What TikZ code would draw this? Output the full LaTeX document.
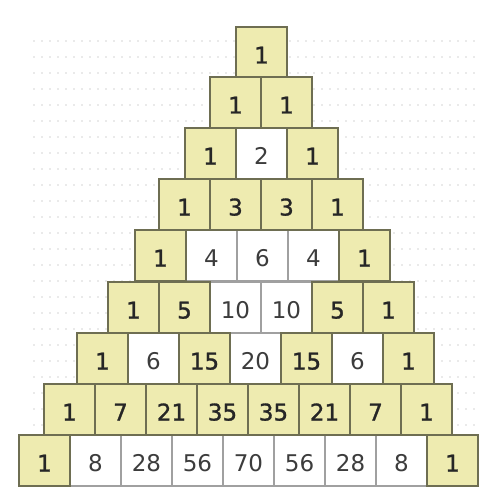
\documentclass[tikz,border=0pt]{standalone}
\usepackage{fontspec}
\setmainfont{DejaVu Sans}
\newfontfamily\heavyfont[FakeBold=1.2]{DejaVu Sans}
\definecolor{cellfill}{HTML}{EEEBB0}
\definecolor{celledge}{HTML}{6E6E52}
\definecolor{evenedge}{HTML}{A0A0A0}
\definecolor{eventext}{HTML}{3C3C3C}
\definecolor{dotgrey}{HTML}{D4D4D4}
\tikzset{
	cell/.style={rectangle,minimum width=51pt,minimum height=51pt,
		inner sep=0pt,line width=1.6pt,text height=22pt,text depth=0pt,
		font=\fontsize{23}{23}\selectfont}
}
\begin{document}
\begin{tikzpicture}[x=1pt,y=-1pt]
	\useasboundingbox (0,0) rectangle (481,497);
	
	% faint dotted backdrop
	\foreach \y in {41,57,...,430}
	\foreach \x in {34,42,...,476}
	\fill[dotgrey] (\x,\y) circle (0.8pt);
	
	% pass 0 draws the even entries, pass 1 the odd ones on top
	\foreach \pass in {0,1}
	\foreach \n/\left/\top in {0/236/27,1/210/77,2/185/128,3/159/179,
		4/135/230,5/108/282,6/77/333,7/44/384,8/19/435}
	\foreach \k in {0,...,\n}{
		\ifnum\k=0
		\xdef\val{1}
		\else
		\pgfmathtruncatemacro\nxt{round(\val*(\n-\k+1)/\k)}
		\xdef\val{\nxt}
		\fi
		\pgfmathtruncatemacro\isodd{mod(\val,2)}
		\ifnum\isodd=1
		\def\cf{cellfill}\def\ce{celledge}\def\ct{black!85}\def\cw{\heavyfont}
		\else
		\def\cf{white}\def\ce{evenedge}\def\ct{eventext}\def\cw{}
		\fi
		\ifnum\isodd=\pass
		\node[cell,fill=\cf,draw=\ce,text=\ct] (c-\n-\k) at
		(\left+51*\k+25.5,\top+25.5) {\cw\val};
		\fi
	}
\end{tikzpicture}
\end{document}
